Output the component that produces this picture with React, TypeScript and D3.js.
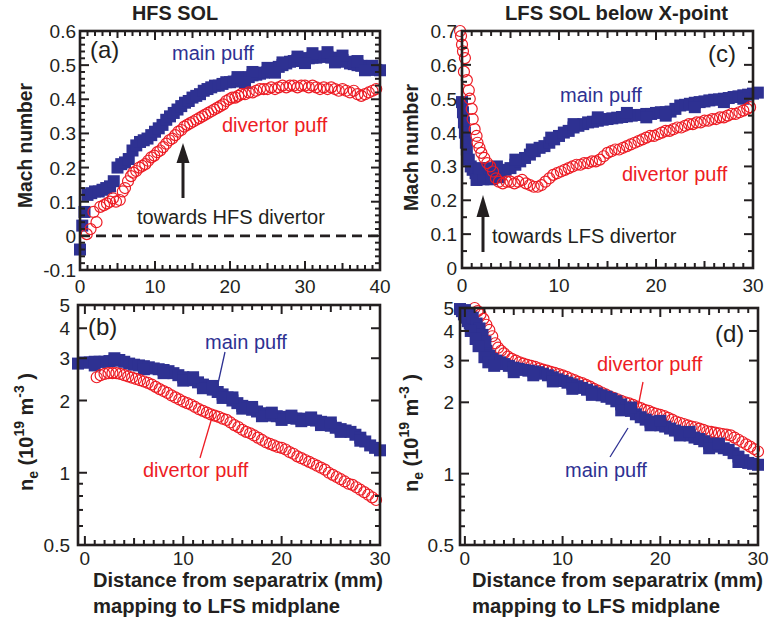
import React from 'react';
import * as d3 from 'd3';

type P = [number, number];

const BLUE = '#2e3192';
const RED = '#ed1c24';
const INK = '#231f20';
const FONT = "'Liberation Sans', Arial, Helvetica, sans-serif";

// (a) HFS SOL Mach number
const hfsMachMain: P[] = [
  [0, -0.04], [0.3, 0.03], [0.6, 0.07], [1.0, 0.12], [1.5, 0.125], [2, 0.13], [2.5, 0.13], [3, 0.135], [3.5, 0.14], [4, 0.145],
  [4.5, 0.16], [5, 0.2], [5.5, 0.21], [6, 0.215], [6.5, 0.225], [7, 0.25], [7.5, 0.265], [8, 0.275], [8.5, 0.28], [9, 0.285],
  [9.5, 0.295], [10, 0.305], [10.5, 0.315], [11, 0.325], [11.5, 0.34], [12, 0.35], [12.5, 0.36], [13, 0.37], [13.5, 0.38], [14, 0.39],
  [14.5, 0.395], [15, 0.405], [15.5, 0.41], [16, 0.415], [16.5, 0.425], [17, 0.43], [17.5, 0.435], [18, 0.44], [18.5, 0.44], [19, 0.445],
  [19.5, 0.45], [20, 0.45], [20.5, 0.452], [21, 0.455], [21.5, 0.458], [22, 0.46], [22.5, 0.465], [23, 0.47], [23.5, 0.472], [24, 0.475],
  [24.5, 0.478], [25, 0.48], [25.5, 0.485], [26, 0.49], [26.5, 0.495], [27, 0.5], [27.5, 0.505], [28, 0.51], [28.5, 0.512], [29, 0.515],
  [29.5, 0.518], [30, 0.52], [30.5, 0.52], [31, 0.522], [31.5, 0.522], [32, 0.525], [32.5, 0.525], [33, 0.525], [33.5, 0.522], [34, 0.52],
  [34.5, 0.518], [35, 0.515], [35.5, 0.51], [36, 0.505], [36.5, 0.503], [37, 0.5], [37.5, 0.498], [38, 0.495], [38.5, 0.49], [39, 0.488],
  [39.5, 0.486], [40, 0.485],
  [21, 0.465], [23, 0.48], [25, 0.492], [27, 0.508], [29, 0.525], [31, 0.535], [33, 0.538], [35, 0.528], [37, 0.512], [39, 0.498],
  [22, 0.448], [26, 0.478], [30, 0.506], [34, 0.508], [38, 0.485],
];
const hfsMachDiv: P[] = [
  [0.9, 0.005], [1.4, 0.02], [1.8, 0.07], [2.2, 0.04], [2.7, 0.085], [3.2, 0.09], [3.6, 0.095], [4.0, 0.1], [4.4, 0.11], [4.8, 0.1],
  [5.3, 0.105], [5.7, 0.13], [6.0, 0.14], [6.4, 0.16], [6.8, 0.175], [7.1, 0.185], [7.5, 0.19], [7.9, 0.2], [8.3, 0.205], [8.7, 0.21],
  [9.1, 0.22], [9.5, 0.23], [9.9, 0.235], [10.3, 0.245], [10.7, 0.25], [11.1, 0.26], [11.5, 0.27], [11.9, 0.28], [12.3, 0.285], [12.7, 0.295],
  [13.1, 0.305], [13.5, 0.31], [13.9, 0.32], [14.3, 0.325], [14.7, 0.33], [15.1, 0.335], [15.5, 0.34], [15.9, 0.345], [16.3, 0.35], [16.7, 0.355],
  [17.1, 0.36], [17.5, 0.365], [17.9, 0.37], [18.3, 0.375], [18.7, 0.38], [19.1, 0.385], [19.5, 0.395], [19.9, 0.4], [20.3, 0.405], [20.7, 0.405],
  [21.1, 0.41], [21.5, 0.415], [22, 0.415], [22.5, 0.42], [23, 0.42], [23.5, 0.425], [24, 0.43], [24.5, 0.43], [25, 0.43], [25.5, 0.435],
  [26, 0.43], [26.5, 0.435], [27, 0.44], [27.5, 0.435], [28, 0.44], [28.5, 0.44], [29, 0.435], [29.5, 0.44], [30, 0.44], [30.5, 0.435],
  [31, 0.44], [31.5, 0.435], [32, 0.43], [32.5, 0.435], [33, 0.43], [33.5, 0.435], [34, 0.43], [34.5, 0.425], [35, 0.43], [35.5, 0.425],
  [36, 0.42], [36.5, 0.425], [37, 0.415], [37.5, 0.41], [38, 0.415], [38.5, 0.42], [39, 0.425], [39.5, 0.43],
];

// (b) HFS SOL density
const hfsNeMain: P[] = [
  [-0.7, 2.85], [0, 2.88], [0.5, 2.88], [1, 2.9], [1.5, 2.9], [2, 2.9], [2.5, 2.92], [3, 2.93], [3.5, 2.95], [4, 2.9],
  [4.5, 2.85], [5, 2.82], [5.5, 2.8], [6, 2.78], [6.5, 2.75], [7, 2.72], [7.5, 2.7], [8, 2.68], [8.5, 2.65], [9, 2.6],
  [9.5, 2.55], [10, 2.5], [10.5, 2.47], [11, 2.43], [11.5, 2.38], [12, 2.33], [12.5, 2.27], [13, 2.22], [13.5, 2.17], [14, 2.12],
  [14.5, 2.06], [15, 2.0], [15.5, 1.95], [16, 1.9], [16.5, 1.86], [17, 1.83], [17.5, 1.8], [18, 1.77], [18.5, 1.75], [19, 1.73],
  [19.5, 1.72], [20, 1.71], [20.5, 1.7], [21, 1.69], [21.5, 1.68], [22, 1.68], [22.5, 1.67], [23, 1.66], [23.5, 1.65], [24, 1.63],
  [24.5, 1.6], [25, 1.57], [25.5, 1.54], [26, 1.52], [26.5, 1.5], [27, 1.48], [27.5, 1.44], [28, 1.4], [28.5, 1.35], [29, 1.3],
  [29.5, 1.27], [30, 1.24],
  [1, 2.8], [3, 3.0], [6, 2.7], [8, 2.6], [10, 2.42], [12, 2.25], [14, 2.05], [16, 1.85], [18, 1.72], [20, 1.66],
  [22, 1.64], [24, 1.58], [26, 1.48], [28, 1.36], [11, 2.5], [13, 2.3], [15, 2.06], [17, 1.88], [19, 1.78], [21, 1.73],
  [23, 1.7], [25, 1.62],
];
const hfsNeDiv: P[] = [
  [1.2, 2.5], [1.6, 2.55], [2.0, 2.58], [2.4, 2.6], [2.8, 2.6], [3.2, 2.6], [3.6, 2.58], [4.0, 2.55], [4.4, 2.52], [4.8, 2.49],
  [5.2, 2.46], [5.6, 2.43], [6.0, 2.4], [6.4, 2.37], [6.8, 2.33], [7.2, 2.28], [7.6, 2.23], [8.0, 2.19], [8.4, 2.15], [8.8, 2.1],
  [9.2, 2.06], [9.6, 2.02], [10.0, 1.98], [10.4, 1.95], [10.8, 1.92], [11.2, 1.88], [11.6, 1.84], [12.0, 1.81], [12.4, 1.78], [12.8, 1.75],
  [13.2, 1.73], [13.6, 1.71], [14.0, 1.68], [14.4, 1.66], [14.8, 1.62], [15.2, 1.58], [15.6, 1.55], [16.0, 1.51], [16.4, 1.48], [16.8, 1.46],
  [17.2, 1.43], [17.6, 1.4], [18.0, 1.37], [18.4, 1.34], [18.8, 1.32], [19.2, 1.3], [19.6, 1.28], [20.0, 1.27], [20.4, 1.25], [20.8, 1.22],
  [21.2, 1.2], [21.6, 1.17], [22.0, 1.15], [22.4, 1.13], [22.8, 1.11], [23.2, 1.09], [23.6, 1.07], [24.0, 1.05], [24.4, 1.03], [24.8, 1.0],
  [25.2, 0.98], [25.6, 0.96], [26.0, 0.94], [26.4, 0.92], [26.8, 0.9], [27.2, 0.89], [27.6, 0.87], [28.0, 0.85], [28.4, 0.83], [28.8, 0.81],
  [29.2, 0.79], [29.6, 0.77],
];

// (c) LFS SOL below X-point Mach number
const lfsMachMain: P[] = [
  [0, 0.49], [0.1, 0.46], [0.2, 0.43], [0.3, 0.4], [0.4, 0.37], [0.5, 0.35], [0.7, 0.32], [0.9, 0.3], [1.1, 0.29], [1.4, 0.28],
  [1.7, 0.278], [2.0, 0.275], [2.5, 0.275], [3.0, 0.278], [3.5, 0.28], [4.0, 0.285], [4.5, 0.29], [5.0, 0.295], [5.5, 0.305], [6.0, 0.315],
  [6.5, 0.325], [7.0, 0.335], [7.5, 0.345], [8.0, 0.355], [8.5, 0.36], [9.0, 0.37], [9.5, 0.38], [10.0, 0.39], [10.5, 0.4], [11.0, 0.405],
  [11.5, 0.415], [12.0, 0.42], [12.5, 0.425], [13.0, 0.43], [13.5, 0.432], [14.0, 0.435], [14.5, 0.438], [15.0, 0.44], [15.5, 0.442], [16.0, 0.444],
  [16.5, 0.446], [17.0, 0.448], [17.5, 0.45], [18, 0.452], [18.5, 0.452], [19, 0.455], [19.5, 0.455], [20, 0.458], [20.5, 0.46], [21, 0.46],
  [21.5, 0.462], [22, 0.47], [22.5, 0.48], [23, 0.482], [23.5, 0.485], [24, 0.488], [24.5, 0.49], [25, 0.492], [25.5, 0.495], [26, 0.497],
  [26.5, 0.498], [27, 0.5], [27.5, 0.502], [28, 0.505], [28.5, 0.507], [29, 0.51], [29.5, 0.512], [30, 0.515], [30.5, 0.518],
  [1.5, 0.26], [2.2, 0.262], [3.0, 0.262], [3.8, 0.268], [1.8, 0.295], [2.8, 0.295], [3.6, 0.3], [5.5, 0.32], [7.2, 0.35], [9.2, 0.385],
  [11.5, 0.425], [14, 0.445], [17, 0.458], [19, 0.445], [21, 0.45], [24, 0.475], [27, 0.49], [29, 0.5],
];
const lfsMachDiv: P[] = [
  [-0.2, 0.7], [-0.1, 0.685], [0.0, 0.66], [0.1, 0.64], [0.3, 0.62], [0.2, 0.58], [0.5, 0.555], [0.7, 0.525], [0.8, 0.5], [1.0, 0.47],
  [1.1, 0.44], [1.3, 0.41], [1.5, 0.39], [1.6, 0.37], [1.8, 0.355], [2.0, 0.34], [2.3, 0.325], [2.6, 0.31], [2.9, 0.3], [3.2, 0.285],
  [3.5, 0.265], [3.8, 0.255], [4.2, 0.25], [4.6, 0.255], [5.0, 0.255], [5.4, 0.25], [5.8, 0.255], [6.2, 0.26], [6.6, 0.25], [7.0, 0.245],
  [7.4, 0.24], [7.8, 0.24], [8.2, 0.245], [8.6, 0.255], [9.0, 0.265], [9.4, 0.275], [9.8, 0.28], [10.2, 0.285], [10.6, 0.29], [11.0, 0.295],
  [11.4, 0.3], [11.8, 0.305], [12.2, 0.305], [12.6, 0.31], [13.0, 0.31], [13.4, 0.315], [13.8, 0.315], [14.2, 0.32], [14.6, 0.33], [15.0, 0.34],
  [15.4, 0.345], [15.8, 0.35], [16.2, 0.35], [16.6, 0.355], [17.0, 0.36], [17.4, 0.365], [17.8, 0.37], [18.2, 0.375], [18.6, 0.38], [19.0, 0.385],
  [19.4, 0.39], [19.8, 0.39], [20.2, 0.395], [20.6, 0.4], [21.0, 0.405], [21.4, 0.405], [21.8, 0.41], [22.2, 0.415], [22.6, 0.415], [23.0, 0.42],
  [23.4, 0.425], [23.8, 0.425], [24.2, 0.43], [24.6, 0.43], [25.0, 0.435], [25.4, 0.435], [25.8, 0.44], [26.2, 0.44], [26.6, 0.445], [27.0, 0.445],
  [27.4, 0.45], [27.8, 0.455], [28.2, 0.455], [28.6, 0.46], [29.0, 0.465], [29.4, 0.47], [29.7, 0.475],
];

// (d) LFS SOL below X-point density
const lfsNeMain: P[] = [
  [-0.5, 4.95], [-0.3, 4.85], [-0.1, 4.7], [0.1, 4.55], [0.3, 4.4], [0.5, 4.3], [0.7, 4.2], [1.0, 4.0], [1.3, 3.85], [1.6, 3.7],
  [1.9, 3.5], [2.2, 3.3], [2.5, 3.15], [2.8, 3.05], [3.2, 3.0], [3.6, 2.95], [4.0, 2.9], [4.5, 2.85], [5.0, 2.8], [5.5, 2.77],
  [6.0, 2.74], [6.5, 2.72], [7.0, 2.7], [7.5, 2.68], [8.0, 2.64], [8.5, 2.6], [9, 2.55], [9.5, 2.5], [10, 2.46], [10.5, 2.42],
  [11, 2.38], [11.5, 2.34], [12, 2.3], [12.5, 2.26], [13, 2.22], [13.5, 2.18], [14, 2.14], [14.5, 2.11], [15, 2.07], [15.5, 2.02],
  [16, 1.96], [16.5, 1.9], [17, 1.84], [17.5, 1.78], [18, 1.73], [18.5, 1.69], [19, 1.66], [19.5, 1.63], [20, 1.6], [20.5, 1.58],
  [21, 1.55], [21.5, 1.52], [22, 1.5], [22.5, 1.48], [23, 1.45], [23.5, 1.42], [24, 1.4], [24.5, 1.37], [25, 1.34], [25.5, 1.32],
  [26, 1.3], [26.5, 1.28], [27, 1.26], [27.5, 1.22], [28, 1.18], [28.5, 1.14], [29, 1.11], [29.5, 1.1], [30, 1.09],
  [0, 4.9], [0.4, 4.75], [0.8, 4.55], [1.2, 4.3], [1.5, 4.1], [1.8, 3.85], [2.1, 3.6], [0.6, 4.0], [1.1, 3.7], [1.4, 3.45],
  [2.0, 3.1], [2.4, 2.95], [3, 2.85], [5, 2.68], [7, 2.6], [9, 2.45], [11, 2.28], [13, 2.15], [16, 1.85], [19, 1.6],
  [22, 1.45], [25, 1.28], [28, 1.12], [17, 1.9], [20, 1.67], [23, 1.5], [26, 1.34],
];
const lfsNeDiv: P[] = [
  [1.0, 5.0], [1.3, 4.85], [1.6, 4.7], [1.9, 4.5], [2.2, 4.25], [2.5, 4.04], [2.8, 3.8], [3.1, 3.55], [3.4, 3.4], [3.7, 3.3],
  [4.0, 3.22], [4.4, 3.12], [4.8, 3.05], [5.2, 3.0], [5.6, 2.95], [6.0, 2.91], [6.4, 2.88], [6.8, 2.85], [7.2, 2.82], [7.6, 2.78],
  [8.0, 2.75], [8.4, 2.72], [8.8, 2.69], [9.2, 2.66], [9.6, 2.63], [10.0, 2.6], [10.4, 2.56], [10.8, 2.52], [11.2, 2.48], [11.6, 2.44],
  [12.0, 2.41], [12.4, 2.37], [12.8, 2.33], [13.2, 2.28], [13.6, 2.24], [14.0, 2.2], [14.4, 2.16], [14.8, 2.12], [15.2, 2.09], [15.6, 2.06],
  [16.0, 2.03], [16.4, 2.0], [16.8, 1.98], [17.2, 1.95], [17.6, 1.92], [18.0, 1.89], [18.4, 1.86], [18.8, 1.84], [19.2, 1.81], [19.6, 1.79],
  [20.0, 1.77], [20.4, 1.75], [20.8, 1.72], [21.2, 1.69], [21.6, 1.66], [22.0, 1.64], [22.4, 1.62], [22.8, 1.6], [23.2, 1.58], [23.6, 1.57],
  [24.0, 1.55], [24.4, 1.53], [24.8, 1.51], [25.2, 1.5], [25.6, 1.49], [26.0, 1.48], [26.4, 1.47], [26.8, 1.46], [27.2, 1.45], [27.6, 1.42],
  [28.0, 1.39], [28.4, 1.36], [28.8, 1.33], [29.2, 1.3], [29.6, 1.27], [30.0, 1.24],
];

// tick values & labels
const xTicks40 = [0, 10, 20, 30, 40];
const xTicks30 = [0, 10, 20, 30];
const machTicksA = [-0.1, 0, 0.1, 0.2, 0.3, 0.4, 0.5, 0.6];
const machLabelsA = ['-0.1', '0', '0.1', '0.2', '0.3', '0.4', '0.5', '0.6'];
const machTicksC = [0, 0.1, 0.2, 0.3, 0.4, 0.5, 0.6, 0.7];
const machLabelsC = ['0', '0.1', '0.2', '0.3', '0.4', '0.5', '0.6', '0.7'];
const machMinorC = [0.05, 0.15, 0.25, 0.35, 0.45, 0.55, 0.65];
const neTicks = [0.5, 1, 2, 3, 4, 5];
const neLabels = ['0.5', '1', '2', '3', '4', '5'];
const neMinor = [0.6, 0.7, 0.8, 0.9];

type Lin = d3.ScaleLinear<number, number>;
const SQ = 12;

function Frame({ x, y, xMinor, xMid, xMajor, yMinor, yMajor }: {
  x: Lin; y: any; xMinor: number[]; xMid: number[]; xMajor: number[]; yMinor: number[]; yMajor: number[];
}) {
  const [x0, x1] = x.range();
  const [y0, y1] = y.range();
  const els: React.ReactNode[] = [];
  let k = 0;
  const addX = (v: number, len: number) => {
    const px = x(v);
    els.push(<line key={k++} x1={px} x2={px} y1={y0} y2={y0 - len} />);
    els.push(<line key={k++} x1={px} x2={px} y1={y1} y2={y1 + len} />);
  };
  const addY = (v: number, len: number) => {
    const py = y(v);
    els.push(<line key={k++} x1={x0} x2={x0 + len} y1={py} y2={py} />);
    els.push(<line key={k++} x1={x1} x2={x1 - len} y1={py} y2={py} />);
  };
  xMinor.forEach(v => addX(v, 5));
  xMid.forEach(v => addX(v, 7));
  xMajor.forEach(v => addX(v, 9));
  yMinor.forEach(v => addY(v, 5));
  yMajor.forEach(v => addY(v, 9));
  return (
    <g stroke={INK} strokeWidth={2}>
      {els}
      <rect x={x0} y={y1} width={x1 - x0} height={y0 - y1} fill="none" strokeWidth={2.6} />
    </g>
  );
}

function Squares({ data, x, y }: { data: P[]; x: Lin; y: any }) {
  return <g fill={BLUE}>{data.map((d, i) => <rect key={i} x={x(d[0]) - SQ / 2} y={y(d[1]) - SQ / 2} width={SQ} height={SQ} />)}</g>;
}
function Circles({ data, x, y }: { data: P[]; x: Lin; y: any }) {
  return <g fill="none" stroke={RED} strokeWidth={1.2}>{data.map((d, i) => <circle key={i} cx={x(d[0])} cy={y(d[1])} r={5.5} />)}</g>;
}

function minorX(d0: number, d1: number) {
  const out: number[] = [];
  for (let v = Math.ceil(d0); v <= d1 + 1e-9; v++) if (v % 5 !== 0) out.push(v);
  return out;
}
function midX(d0: number, d1: number) {
  const out: number[] = [];
  for (let v = Math.ceil(d0); v <= d1 + 1e-9; v++) if (v % 5 === 0 && v % 10 !== 0) out.push(v);
  return out;
}

function Arrow({ x, tip, base, shaftEnd }: { x: number; tip: number; base: number; shaftEnd: number }) {
  return (
    <g fill={INK} stroke={INK}>
      <line x1={x} x2={x} y1={base - 1} y2={shaftEnd} strokeWidth={3} />
      <polygon points={`${x},${tip} ${x - 6.5},${base} ${x + 6.5},${base}`} stroke="none" />
    </g>
  );
}

function NeLabel({ cx, cy }: { cx: number; cy: number }) {
  return (
    <text transform={`translate(${cx},${cy}) rotate(-90)`} textAnchor="middle" fontWeight="bold" fontSize={20} fill={INK}>
      <tspan>n</tspan>
      <tspan fontSize={14} dy={5}>e</tspan>
      <tspan dy={-5}> (10</tspan>
      <tspan fontSize={14} dy={-9}>19</tspan>
      <tspan dy={9}> m</tspan>
      <tspan fontSize={14} dy={-9}>-3</tspan>
      <tspan dy={9}> )</tspan>
    </text>
  );
}

export default function App() {
  const xa = d3.scaleLinear().domain([0, 40]).range([80, 380]);
  const ya = d3.scaleLinear().domain([-0.1, 0.6]).range([270, 31]);
  const xb = d3.scaleLinear().domain([-0.7, 30]).range([78, 380]);
  const yb = d3.scaleLog().domain([0.5, 5]).range([545, 305]);
  const xc = d3.scaleLinear().domain([0, 30]).range([462, 753]);
  const yc = d3.scaleLinear().domain([0, 0.7]).range([268, 31]);
  const xd = d3.scaleLinear().domain([-0.5, 30]).range([460, 758]);
  const yd = d3.scaleLog().domain([0.5, 5]).range([545, 308]);

  const yMinorA: number[] = [];
  for (let i = -5; i <= 30; i++) if (i % 5 !== 0) yMinorA.push(i * 0.02);

  const tickFont = { fontFamily: FONT, fontSize: 19, fill: INK } as const;
  const ann = { fontFamily: FONT, fontSize: 20 } as const;
  const bold = { fontFamily: FONT, fontWeight: 'bold', fontSize: 20, fill: INK, lengthAdjust: 'spacingAndGlyphs' } as const;

  return (
    <svg width={771} height={619} style={{ position: 'absolute', left: 0, top: 0, background: '#fff' }} fontFamily={FONT}>
      <rect width={771} height={619} fill="#fff" />

      <text x={132} y={20} {...bold} textLength={86}>HFS SOL</text>
      <text x={505} y={20} {...bold} textLength={223}>LFS SOL below X-point</text>

      {/* Panel (a) */}
      <line x1={xa(0)} x2={xa(40)} y1={ya(0)} y2={ya(0)} stroke={INK} strokeWidth={2.6} strokeDasharray="10,6" />
      <Squares data={hfsMachMain} x={xa} y={ya} />
      <Circles data={hfsMachDiv} x={xa} y={ya} />
      <Frame x={xa} y={ya} xMinor={minorX(0, 40)} xMid={midX(0, 40)} xMajor={xTicks40} yMinor={yMinorA} yMajor={machTicksA} />
      {machTicksA.map((v, i) => <text key={i} x={76} y={ya(v) + 7} textAnchor="end" {...tickFont}>{machLabelsA[i]}</text>)}
      {xTicks40.map(v => <text key={v} x={xa(v)} y={293} textAnchor="middle" {...tickFont}>{v}</text>)}
      <text x={90} y={58} fontFamily={FONT} fontSize={24} fill={INK}>(a)</text>
      <text x={172} y={60} {...ann} fill={BLUE}>main puff</text>
      <text x={222} y={132} {...ann} fill={RED}>divertor puff</text>
      <text x={137} y={224} {...ann} fill={INK}>towards HFS divertor</text>
      <Arrow x={183} tip={143} base={163} shaftEnd={198} />
      <text transform="translate(32,208) rotate(-90)" {...bold} textLength={125}>Mach number</text>

      {/* Panel (b) */}
      <Squares data={hfsNeMain} x={xb} y={yb} />
      <Circles data={hfsNeDiv} x={xb} y={yb} />
      <Frame x={xb} y={yb} xMinor={minorX(-0.7, 30)} xMid={midX(-0.7, 30)} xMajor={xTicks30} yMinor={neMinor} yMajor={neTicks} />
      {neTicks.map((v, i) => <text key={i} x={70} y={yb(v) + 7} textAnchor="end" {...tickFont}>{neLabels[i]}</text>)}
      {xTicks30.map(v => <text key={v} x={xb(v)} y={565} textAnchor="middle" {...tickFont}>{v}</text>)}
      <text x={88} y={335} fontFamily={FONT} fontSize={24} fill={INK}>(b)</text>
      <text x={205} y={349} {...ann} fill={BLUE}>main puff</text>
      <line x1={225} y1={352} x2={217} y2={388} stroke={BLUE} strokeWidth={1.3} />
      <text x={143} y={477} {...ann} fill={RED}>divertor puff</text>
      <line x1={200} y1={458} x2={213} y2={414} stroke={RED} strokeWidth={1.3} />
      <NeLabel cx={33} cy={432} />
      <text x={93} y={587} {...bold} textLength={290}>Distance from separatrix (mm)</text>
      <text x={93} y={613} {...bold} textLength={247}>mapping to LFS midplane</text>

      {/* Panel (c) */}
      <Squares data={lfsMachMain} x={xc} y={yc} />
      <Circles data={lfsMachDiv} x={xc} y={yc} />
      <Frame x={xc} y={yc} xMinor={minorX(0, 30)} xMid={midX(0, 30)} xMajor={xTicks30} yMinor={machMinorC} yMajor={machTicksC} />
      {machTicksC.map((v, i) => <text key={i} x={457} y={yc(v) + 7} textAnchor="end" {...tickFont}>{machLabelsC[i]}</text>)}
      {xTicks30.map(v => <text key={v} x={xc(v)} y={292} textAnchor="middle" {...tickFont}>{v}</text>)}
      <text x={708} y={62} fontFamily={FONT} fontSize={24} fill={INK}>(c)</text>
      <text x={560} y={102} {...ann} fill={BLUE}>main puff</text>
      <text x={622} y={181} {...ann} fill={RED}>divertor puff</text>
      <text x={492} y={243} {...ann} fill={INK}>towards LFS divertor</text>
      <Arrow x={483} tip={195} base={217} shaftEnd={252} />
      <text transform="translate(418,211) rotate(-90)" {...bold} textLength={127}>Mach number</text>

      {/* Panel (d) */}
      <Circles data={lfsNeDiv} x={xd} y={yd} />
      <Squares data={lfsNeMain} x={xd} y={yd} />
      <Frame x={xd} y={yd} xMinor={minorX(-0.5, 30)} xMid={midX(-0.5, 30)} xMajor={xTicks30} yMinor={neMinor} yMajor={neTicks} />
      {neTicks.map((v, i) => <text key={i} x={454} y={yd(v) + 7} textAnchor="end" {...tickFont}>{neLabels[i]}</text>)}
      {xTicks30.map(v => <text key={v} x={xd(v)} y={565} textAnchor="middle" {...tickFont}>{v}</text>)}
      <text x={715} y={342} fontFamily={FONT} fontSize={24} fill={INK}>(d)</text>
      <text x={597} y={371} {...ann} fill={RED}>divertor puff</text>
      <line x1={643} y1={382} x2={638} y2={407} stroke={RED} strokeWidth={1.3} />
      <text x={565} y={477} {...ann} fill={BLUE}>main puff</text>
      <line x1={610} y1={457} x2={628} y2={428} stroke={BLUE} strokeWidth={1.3} />
      <NeLabel cx={418} cy={433} />
      <text x={472} y={587} {...bold} textLength={291}>Distance from separatrix (mm)</text>
      <text x={472} y={613} {...bold} textLength={248}>mapping to LFS midplane</text>
    </svg>
  );
}
